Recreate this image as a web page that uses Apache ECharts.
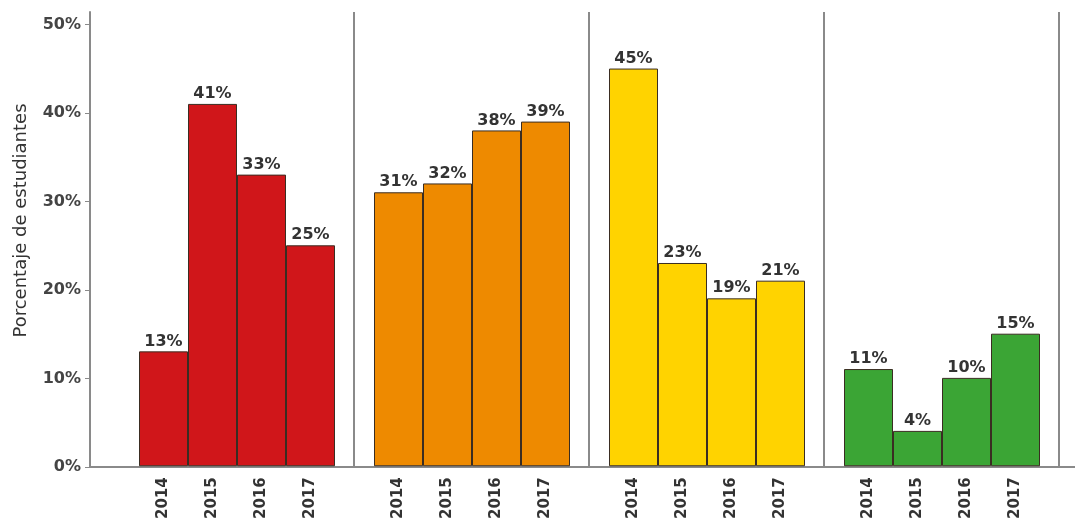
<!DOCTYPE html>
<html>
<head>
<meta charset="utf-8">
<script src="https://cdn.jsdelivr.net/npm/echarts@6/dist/echarts.min.js"></script>
<style>
html,body{margin:0;padding:0;background:#fff;}
#c{width:1075px;height:522px;}
</style>
</head>
<body>
<div id="c"></div>
<script>
var years = ['2014', '2015', '2016', '2017'];
var groupA = [13, 41, 33, 25];
var groupB = [31, 32, 38, 39];
var groupC = [45, 23, 19, 21];
var groupD = [11, 4, 10, 15];
var yTicks = [0, 10, 20, 30, 40, 50];
var axisName = 'Porcentaje de estudiantes';

var groups = [groupA, groupB, groupC, groupD];
var colors = ['#D0161A', '#EE8A00', '#FFD300', '#3BA535'];
var FONT = 'DejaVu Sans';
var YMAX = 51.4;
var TOP = 12, BOTTOM = 55;

var grid = [
  {left: 90, right: 0, top: TOP, bottom: BOTTOM},
  {left: 119, width: 940, top: TOP, bottom: BOTTOM}
];
var xAxis = [
  {gridIndex: 0, type: 'category', data: [''], axisLine: {show: true, lineStyle: {color: '#8a8a8a', width: 2}}, axisTick: {show: false}, axisLabel: {show: false}},
  {gridIndex: 1, type: 'value', min: 0, max: 4, interval: 1, axisLine: {show: false}, axisTick: {show: false}, axisLabel: {show: false},
   splitLine: {show: true, showMinLine: false, showMaxLine: true, lineStyle: {color: '#8a8a8a', width: 2}}}
];
var yAxis = [
  {gridIndex: 0, type: 'value', min: 0, max: YMAX, interval: 10,
   name: axisName, nameLocation: 'middle', nameGap: 60,
   nameTextStyle: {fontFamily: FONT, fontSize: 18, color: '#333', padding: [0, 0, 0, 38]},
   axisLine: {show: true, lineStyle: {color: '#8a8a8a', width: 2}},
   axisTick: {show: true, length: 5, customValues: yTicks, lineStyle: {color: '#8a8a8a', width: 1}},
   splitLine: {show: false},
   axisLabel: {fontFamily: FONT, fontSize: 16, fontWeight: 'bold', color: '#444', margin: 9,
     customValues: yTicks,
     formatter: function (v) { return yTicks.indexOf(v) >= 0 ? v + '%' : ''; }}},
  {gridIndex: 1, type: 'value', min: 0, max: YMAX, show: false}
];
var series = [];
groups.forEach(function (vals, i) {
  grid.push({left: 139 + 235 * i, width: 196, top: TOP, bottom: BOTTOM});
  xAxis.push({gridIndex: i + 2, type: 'category', data: years,
    axisLine: {show: false}, axisTick: {show: false},
    axisLabel: {rotate: 90, fontFamily: FONT, fontSize: 15, fontWeight: 'bold', color: '#333', margin: 11}});
  yAxis.push({gridIndex: i + 2, type: 'value', min: 0, max: YMAX, show: false});
  series.push({
    type: 'bar', xAxisIndex: i + 2, yAxisIndex: i + 2, data: vals,
    barCategoryGap: '0%',
    itemStyle: {color: colors[i], borderColor: '#3a2d22', borderWidth: 1},
    label: {show: true, position: 'top', distance: 2, formatter: '{c}%',
      fontFamily: FONT, fontSize: 16, fontWeight: 'bold', color: '#333'}
  });
});

var chart = echarts.init(document.getElementById('c'), null, {renderer: 'canvas'});
chart.setOption({
  animation: false,
  backgroundColor: '#fff',
  grid: grid, xAxis: xAxis, yAxis: yAxis, series: series
});
</script>
</body>
</html>
